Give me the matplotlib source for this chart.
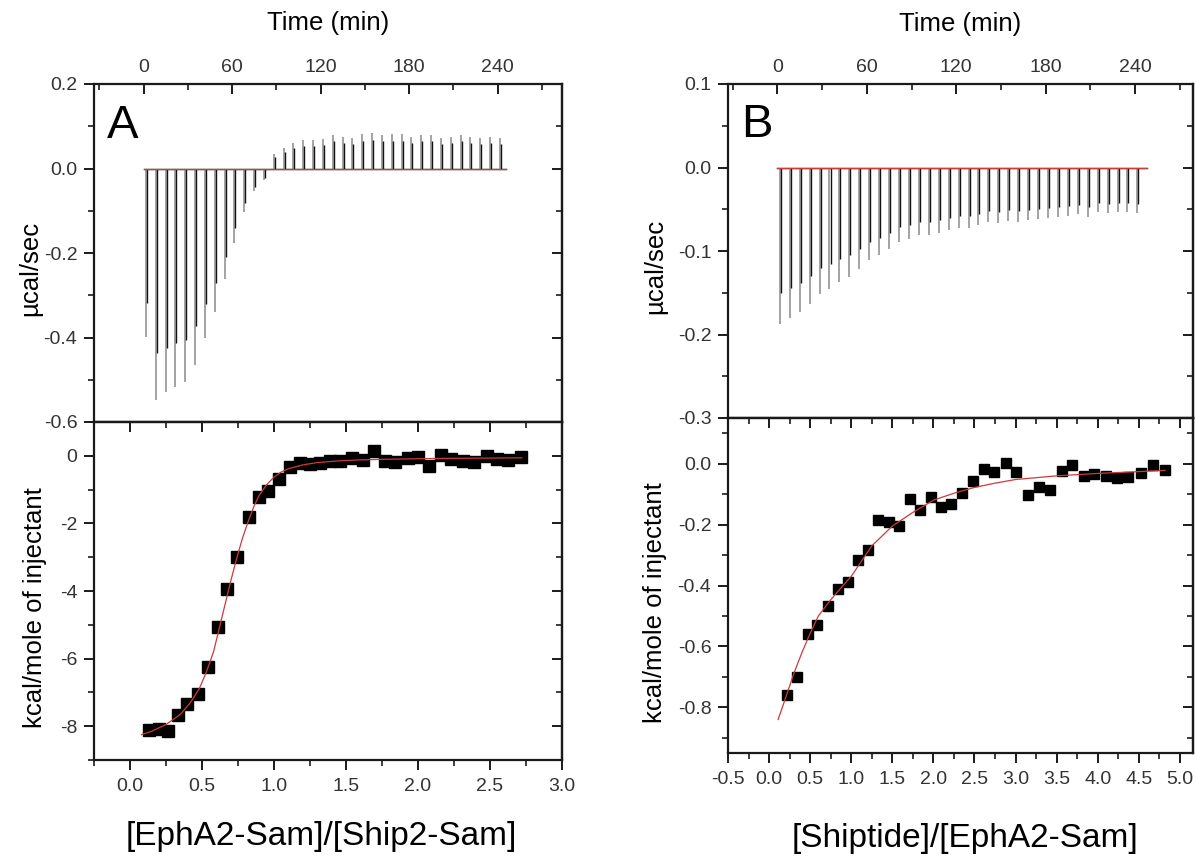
import numpy as np
import matplotlib
matplotlib.use("Agg")
import matplotlib.pyplot as plt
from matplotlib.ticker import MultipleLocator

plt.rcParams['font.family'] = ['Liberation Sans', 'DejaVu Sans']
plt.rcParams['axes.unicode_minus'] = False

# ---------------- data ----------------
# injection times (min), same protocol for both experiments
injection_times = [1.6, 8.3, 14.9, 21.6, 28.3, 34.9, 41.6, 48.3, 54.9, 61.6,
                   68.3, 74.9, 81.6, 88.3, 94.9, 101.6, 108.3, 114.9, 121.6,
                   128.3, 134.9, 141.6, 148.3, 154.9, 161.6, 168.3, 174.9,
                   181.6, 188.3, 194.9, 201.6, 208.3, 214.9, 221.6, 228.3,
                   234.9, 241.6]

# Panel A raw heat peaks (ucal/sec)
peaks_a = [-0.398, -0.547, -0.530, -0.516, -0.506, -0.465, -0.402, -0.340,
           -0.262, -0.177, -0.103, -0.054, -0.028, 0.035, 0.049, 0.061,
           0.067, 0.067, 0.071, 0.080, 0.075, 0.073, 0.081, 0.083, 0.080,
           0.081, 0.081, 0.075, 0.080, 0.080, 0.072, 0.075, 0.080, 0.075,
           0.073, 0.075, 0.072]
baseline_a = [0.0, 246.0]

# Panel B raw heat peaks (ucal/sec)
peaks_b = [-0.188, -0.180, -0.173, -0.163, -0.151, -0.145, -0.137, -0.131,
           -0.122, -0.111, -0.105, -0.098, -0.089, -0.086, -0.081, -0.081,
           -0.079, -0.075, -0.073, -0.072, -0.069, -0.065, -0.067, -0.064,
           -0.065, -0.063, -0.062, -0.061, -0.059, -0.058, -0.056, -0.059,
           -0.053, -0.054, -0.053, -0.053, -0.054]
baseline_b = [0.0, 248.0]

# Panel A integrated heats
ratio_a = [0.132, 0.200, 0.264, 0.332, 0.399, 0.469, 0.539, 0.608, 0.676,
           0.746, 0.823, 0.893, 0.960, 1.035, 1.110, 1.180, 1.250, 1.322,
           1.392, 1.461, 1.541, 1.616, 1.691, 1.771, 1.840, 1.928, 2.002,
           2.077, 2.157, 2.232, 2.314, 2.389, 2.476, 2.551, 2.626, 2.713]
heat_a = [-8.12, -8.07, -8.15, -7.68, -7.33, -7.04, -6.25, -5.07, -3.95,
          -3.00, -1.82, -1.23, -1.05, -0.69, -0.34, -0.20, -0.25, -0.20,
          -0.15, -0.15, -0.07, -0.13, 0.13, -0.15, -0.18, -0.07, -0.05,
          -0.31, 0.03, -0.10, -0.15, -0.18, 0.00, -0.10, -0.13, -0.03]
fit_x_a = [0.08, 0.15, 0.25, 0.35, 0.42, 0.48, 0.53, 0.58, 0.62, 0.66, 0.70,
           0.74, 0.78, 0.82, 0.86, 0.90, 0.95, 1.00, 1.05, 1.10, 1.20, 1.30,
           1.45, 1.60, 1.80, 2.10, 2.40, 2.72]
fit_y_a = [-8.25, -8.15, -7.95, -7.65, -7.30, -6.90, -6.40, -5.80, -5.10,
           -4.40, -3.70, -3.05, -2.45, -1.95, -1.50, -1.15, -0.85, -0.63,
           -0.48, -0.38, -0.27, -0.20, -0.15, -0.12, -0.10, -0.08, -0.07,
           -0.06]

# Panel B integrated heats
ratio_b = [0.218, 0.343, 0.473, 0.589, 0.714, 0.834, 0.955, 1.084, 1.205,
           1.330, 1.455, 1.580, 1.710, 1.835, 1.965, 2.095, 2.220, 2.345,
           2.484, 2.613, 2.743, 2.882, 3.007, 3.146, 3.285, 3.415, 3.563,
           3.693, 3.828, 3.957, 4.096, 4.235, 4.374, 4.522, 4.676, 4.815]
heat_b = [-0.759, -0.701, -0.560, -0.529, -0.467, -0.412, -0.390, -0.316,
          -0.283, -0.186, -0.193, -0.206, -0.115, -0.151, -0.110, -0.142,
          -0.132, -0.096, -0.058, -0.018, -0.028, 0.002, -0.028, -0.102,
          -0.077, -0.088, -0.025, -0.003, -0.042, -0.033, -0.039, -0.047,
          -0.044, -0.031, -0.003, -0.020]
fit_x_b = [0.11, 0.20, 0.30, 0.40, 0.50, 0.60, 0.75, 0.90, 1.00, 1.25, 1.50,
           1.75, 2.00, 2.25, 2.50, 2.75, 3.00, 3.50, 4.00, 4.50, 4.82]
fit_y_b = [-0.840, -0.770, -0.690, -0.620, -0.557, -0.500, -0.447, -0.400,
           -0.370, -0.270, -0.205, -0.160, -0.120, -0.097, -0.078, -0.064,
           -0.052, -0.040, -0.032, -0.026, -0.022]

# ---------------- style ----------------
W, H = 1196, 856
SPINE = '#1a1a1a'
TICKC = '#1a1a1a'
LABC = '#333333'
RED = '#cc3a3a'
TICKFS = 14
LABFS = 18.5

fig = plt.figure(figsize=(W / 100, H / 100), dpi=100)
fig.patch.set_facecolor('white')


def px_axes(l, t, r, b):
    return fig.add_axes([l / W, 1 - b / H, (r - l) / W, (b - t) / H])


def style_axes(ax):
    for s in ax.spines.values():
        s.set_linewidth(1.6)
        s.set_color(SPINE)
    ax.tick_params(which='major', length=7, width=1.4, color=TICKC,
                   labelsize=TICKFS, labelcolor=LABC, pad=5)
    ax.tick_params(which='minor', length=4, width=1.2, color=TICKC)


def right_ticks(ax, major, minor):
    sec = ax.secondary_yaxis('right')
    sec.yaxis.set_major_locator(MultipleLocator(major))
    sec.yaxis.set_minor_locator(MultipleLocator(minor))
    sec.tick_params(which='both', direction='in', labelright=False,
                    color=TICKC)
    sec.tick_params(which='major', length=7, width=1.4)
    sec.tick_params(which='minor', length=4, width=1.2)
    sec.spines['right'].set_linewidth(1.6)
    sec.spines['right'].set_color(SPINE)


def top_ticks(ax, major, minor):
    sec = ax.secondary_xaxis('top')
    sec.xaxis.set_major_locator(MultipleLocator(major))
    sec.xaxis.set_minor_locator(MultipleLocator(minor))
    sec.tick_params(which='both', direction='in', labeltop=False,
                    color=TICKC)
    sec.tick_params(which='major', length=7, width=1.4)
    sec.tick_params(which='minor', length=4, width=1.2)
    sec.spines['top'].set_linewidth(1.6)
    sec.spines['top'].set_color(SPINE)


def thermogram(ax, peaks, base, xlim, ylim, ymaj, ymin, letter, lab_x):
    t = np.asarray(injection_times)
    p = np.asarray(peaks)
    ax.plot(base, [0, 0], color='#222222', lw=1.0, zorder=2)
    ax.vlines(t, 0, p, colors='#8a8a8a', lw=1.1, zorder=3)
    ax.vlines(t + 0.7, 0, p * 0.8, colors='#111111', lw=1.0, zorder=3)
    ax.plot(base, [0, 0], color=RED, lw=0.9, zorder=4)
    ax.set_xlim(*xlim)
    ax.set_ylim(*ylim)
    ax.xaxis.tick_top()
    ax.xaxis.set_label_position('top')
    ax.xaxis.set_major_locator(MultipleLocator(60))
    ax.xaxis.set_minor_locator(MultipleLocator(30))
    ax.yaxis.set_major_locator(MultipleLocator(ymaj))
    ax.yaxis.set_minor_locator(MultipleLocator(ymin))
    style_axes(ax)
    ax.tick_params(axis='x', which='both', direction='in', top=True,
                   bottom=False, labeltop=True, labelbottom=False)
    ax.tick_params(axis='x', which='major', pad=6)
    ax.tick_params(axis='y', which='both', direction='out', left=True,
                   right=False)
    right_ticks(ax, ymaj, ymin)
    ax.set_xlabel('Time (min)', fontsize=LABFS)
    ax.xaxis.set_label_coords(0.5, 1.18)
    ax.xaxis.label.set_verticalalignment('center')
    ax.set_ylabel('\u00b5cal/sec', fontsize=LABFS)
    ax.yaxis.set_label_coords(lab_x, 0.455)
    ax.yaxis.label.set_verticalalignment('center')
    ax.text(0.028, 0.84, letter, transform=ax.transAxes, fontsize=34,
            ha='left', va='baseline', color='black')


def isotherm(ax, x, y, fx, fy, xlim, ylim, xmaj, xmin, ymaj, ymin, ms,
             xlabel, lab_x, xl_pos):
    ax.plot(x, y, linestyle='none', marker='s', ms=ms, color='black',
            mec='black', zorder=3)
    ax.plot(fx, fy, color=RED, lw=0.9, zorder=4)
    ax.set_xlim(*xlim)
    ax.set_ylim(*ylim)
    ax.xaxis.set_major_locator(MultipleLocator(xmaj))
    ax.xaxis.set_minor_locator(MultipleLocator(xmin))
    ax.yaxis.set_major_locator(MultipleLocator(ymaj))
    ax.yaxis.set_minor_locator(MultipleLocator(ymin))
    style_axes(ax)
    ax.tick_params(axis='x', which='both', direction='out', top=False)
    ax.tick_params(axis='x', which='major', pad=6)
    ax.tick_params(axis='y', which='both', direction='out', right=False)
    right_ticks(ax, ymaj, ymin)
    top_ticks(ax, xmaj, xmin)
    ax.set_ylabel('kcal/mole of injectant', fontsize=LABFS)
    ax.yaxis.set_label_coords(lab_x, 0.45)
    ax.yaxis.label.set_verticalalignment('center')
    ax.set_xlabel(xlabel, fontsize=24)
    ax.xaxis.set_label_coords(*xl_pos)
    ax.xaxis.label.set_verticalalignment('center')


# Panel A
axA1 = px_axes(94, 84, 562, 422)
axA2 = px_axes(94, 422, 562, 760)
thermogram(axA1, peaks_a, baseline_a, (-33.6, 283.7), (-0.6, 0.2), 0.2, 0.1,
           'A', -0.136)
isotherm(axA2, ratio_a, heat_a, fit_x_a, fit_y_a, (-0.25, 3.0), (-9, 1),
         0.5, 0.25, 2, 1, 8.6, '[EphA2-Sam]/[Ship2-Sam]', -0.126,
         (0.485, -0.225))
axA2.yaxis.set_major_formatter(plt.FuncFormatter(lambda v, p: f'{v:g}'))

# Panel B
axB1 = px_axes(728, 84, 1193, 418)
axB2 = px_axes(728, 418, 1193, 753)
thermogram(axB1, peaks_b, baseline_b, (-33.2, 278.9), (-0.3, 0.1), 0.1, 0.05,
           'B', -0.157)
isotherm(axB2, ratio_b, heat_b, fit_x_b, fit_y_b, (-0.5, 5.16), (-0.95, 0.15),
         0.5, 0.25, 0.2, 0.1, 7.6, '[Shiptide]/[EphA2-Sam]', -0.157,
         (0.51, -0.254))

fig.savefig('out.png', dpi=100, facecolor='white')
